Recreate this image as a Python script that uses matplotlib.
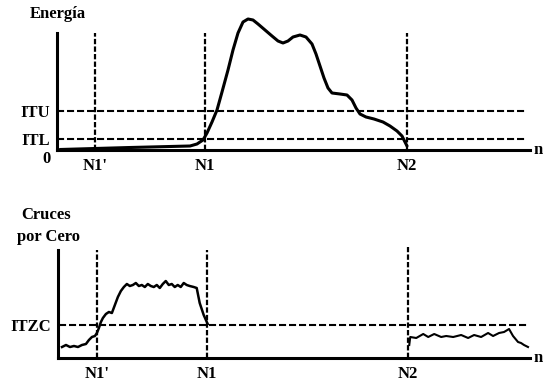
import matplotlib
matplotlib.use("Agg")
import matplotlib.pyplot as plt

# frames along the time axis, n
N1P, N1, N2 = 38, 148, 350
N_END = 473

# umbrales
ITU, ITL = 39, 11
ITZC = 33

# curva de energía (trama, valor)
energy_n = [3, 73, 133, 140, 146, 150, 155, 160, 165, 171, 176, 181, 186, 191, 196,
            201, 208, 215, 221, 226, 231, 236, 243, 249, 255, 259, 263, 267, 271, 275,
            283, 290, 295, 299, 303, 309, 317, 326, 333, 340, 345, 350]
energy_v = [0.5, 2.5, 4, 6, 10, 17, 28, 40, 58, 80, 100, 117, 128, 131, 130,
            126, 120, 114, 109, 107, 109, 113, 115, 113, 106, 96, 84, 72, 62, 57,
            56, 55, 50, 42, 36, 33, 31, 28, 24, 19, 14, 4]

# cruces por cero, tramo inicial (hasta N1)
zc1_n = [3, 7, 11, 15, 19, 23, 27, 30, 33, 36, 38, 40, 42, 44, 47, 50, 53, 56, 59,
         62, 65, 68, 71, 74, 77, 80, 83, 86, 89, 92, 95, 98, 101, 104, 107, 110,
         113, 116, 119, 122, 125, 128, 131, 135, 138, 141, 145, 149]
zc1_v = [11, 13, 11, 12, 11, 13, 14, 18, 21, 22, 25, 30, 36, 40, 44, 46, 45, 53, 61,
         67, 71, 74, 72, 73, 75, 72, 73, 71, 74, 72, 71, 73, 70, 74, 77, 73, 74, 71,
         73, 71, 75, 73, 72, 71, 70, 55, 43, 34]

# cruces por cero, tramo final (desde N2)
zc2_n = [351, 352, 358, 365, 370, 376, 383, 388, 395, 403, 410, 416, 423, 430,
         435, 441, 446, 451, 455, 460, 463, 466, 470]
zc2_v = [13, 21, 20, 24, 21, 24, 21, 22, 21, 23, 20, 23, 21, 25, 22, 25, 26, 29,
         22, 16, 15, 13, 11]

W, H = 545, 382
FONT = dict(family="Liberation Serif", fontweight="bold", fontsize=12)

fig = plt.figure(figsize=(W / 100, H / 100), dpi=100)

# panel superior: energía
ax1 = fig.add_axes([57 / W, (H - 150) / H, N_END / W, 135 / H])
ax1.set_xlim(0, N_END)
ax1.set_ylim(0, 135)
ax1.plot(energy_n, energy_v, color="black", lw=2.2, solid_capstyle="round")
ax1.hlines([ITU, ITL], 0, 470, colors="black", lw=1.5, linestyles=(0, (3.4, 1.4)))
ax1.vlines([N1P, N1, N2], 0, 117, colors="black", lw=1.6, linestyles=(0, (2.4, 1.0)))
ax1.spines["left"].set_bounds(0, 117)
ax1.set_yticks([ITL, ITU], ["ITL", "ITU"], **FONT)
ax1.set_xticks([N1P, N1, N2], ["N1'", "N1", "N2"], **FONT)
ax1.text(-6, -1, "0", ha="right", va="top", **FONT)
ax1.text(-27, 136, "Energía", ha="left", va="center", **FONT)
ax1.text(477, 0, "n", ha="left", va="center", clip_on=False, **FONT)

# panel inferior: cruces por cero
ax2 = fig.add_axes([58 / W, (H - 358) / H, (N_END - 1) / W, 112 / H])
ax2.set_xlim(-1, N_END - 1)
ax2.set_ylim(0, 112)
ax2.plot(zc1_n, zc1_v, color="black", lw=1.8)
ax2.plot(zc2_n, zc2_v, color="black", lw=1.5)
ax2.hlines(ITZC, 0, 470, colors="black", lw=1.5, linestyles=(0, (3.4, 1.4)))
ax2.vlines([N1P, N1], 0, 108, colors="black", lw=1.6, linestyles=(0, (2.4, 1.0)))
ax2.vlines(N2, 0, 111, colors="black", lw=1.6, linestyles=(0, (2.4, 1.0)))
ax2.spines["left"].set_bounds(0, 108)
ax2.set_yticks([ITZC], ["ITZC"], **FONT)
ax2.set_xticks([N1P, N1, N2], ["N1'", "N1", "N2"], **FONT)
ax2.text(-38, 143, "Cruces", ha="left", va="center", **FONT)
ax2.text(-42, 121, "por Cero", ha="left", va="center", **FONT)
ax2.text(476, 0, "n", ha="left", va="center", clip_on=False, **FONT)

for ax in (ax1, ax2):
    ax.spines["top"].set_visible(False)
    ax.spines["right"].set_visible(False)
    ax.spines["left"].set_linewidth(2.2)
    ax.spines["bottom"].set_linewidth(2.2)
    ax.tick_params(axis="x", length=0, pad=6)
    ax.tick_params(axis="y", length=0, pad=5)
    ax.patch.set_visible(False)

fig.savefig("out.png", dpi=100)
